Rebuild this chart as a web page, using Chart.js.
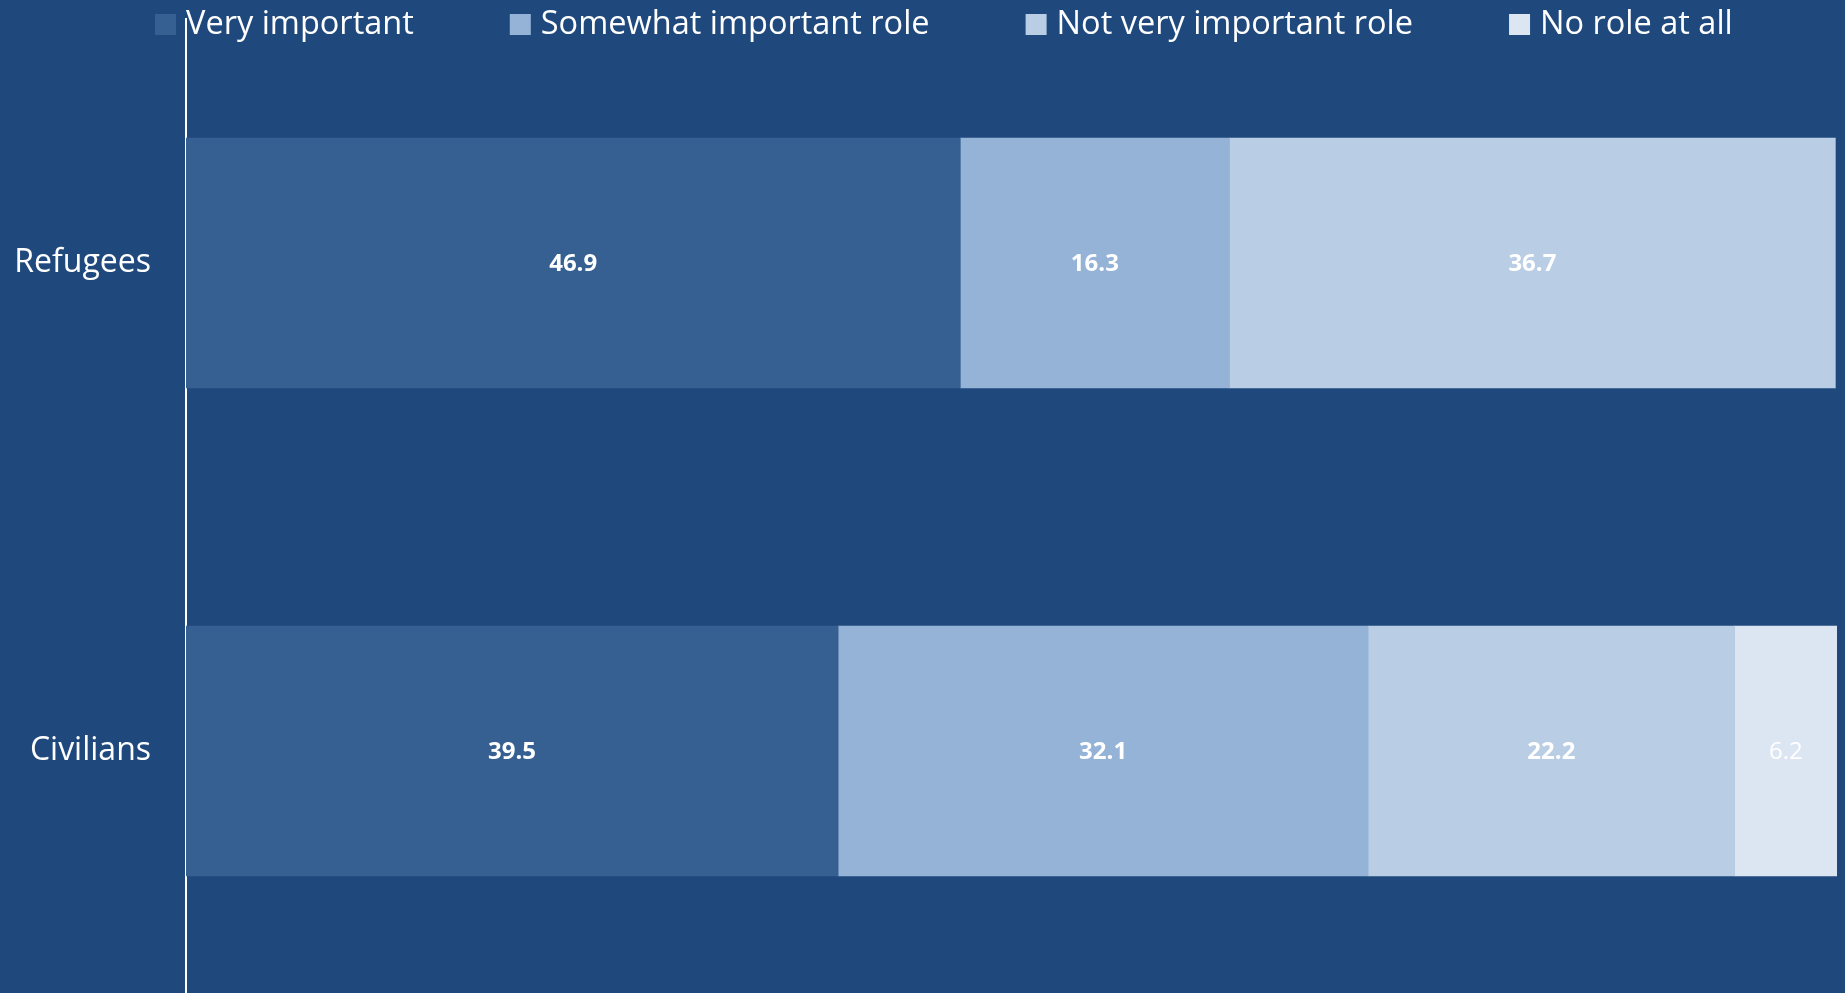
<!DOCTYPE html>
<html lang="en">
<head>
    <meta charset="UTF-8">
    <title>Role ratings</title>
    <script src="https://cdn.jsdelivr.net/npm/chart.js"></script>
    <style>
        html, body { margin: 0; padding: 0; background: #1F497D; overflow: hidden; }
        #wrap { position: relative; width: 1845px; height: 995px; }
    </style>
</head>
<body>
    <div id="wrap"><canvas id="roleChart"></canvas></div>

    <script>
        // data
        const groups = ["Refugees", "Civilians"];
        const seriesNames = ["Very important", "Somewhat important role", "Not very important role", "No role at all"];
        const veryImportant = [46.9, 39.5];
        const somewhatImportant = [16.3, 32.1];
        const notVeryImportant = [36.7, 22.2];
        const noRole = [null, 6.2];
        const seriesColors = ["#376092", "#95B3D7", "#B9CDE5", "#DCE6F2"];

        const FONT = "'Open Sans', sans-serif";

        // legend drawn on top of the plot, like the original
        const overlayLegend = {
            id: "overlayLegend",
            afterDraw(chart) {
                const ctx = chart.ctx;
                ctx.save();
                ctx.font = "32.5px " + FONT;
                ctx.textBaseline = "middle";
                ctx.textAlign = "left";
                let x = 155;
                const yMid = 24;
                chart.data.datasets.forEach(function(ds) {
                    ctx.fillStyle = ds.backgroundColor;
                    ctx.fillRect(x, yMid - 10, 21, 21);
                    x += 31;
                    ctx.fillStyle = "#ffffff";
                    ctx.fillText(ds.label, x, yMid + 1);
                    x += ctx.measureText(ds.label).width + 96;
                });
                ctx.restore();
            }
        };

        // value labels in the middle of each segment
        const segmentLabels = {
            id: "segmentLabels",
            afterDatasetsDraw(chart) {
                const ctx = chart.ctx;
                ctx.save();
                ctx.textAlign = "center";
                ctx.textBaseline = "middle";
                ctx.fillStyle = "#ffffff";
                chart.data.datasets.forEach(function(ds, di) {
                    const meta = chart.getDatasetMeta(di);
                    ctx.font = (di === 3 ? "" : "bold ") + "24px " + FONT;
                    meta.data.forEach(function(bar, i) {
                        const v = ds.data[i];
                        if (v === null || v === undefined) return;
                        const cx = (bar.x + bar.base) / 2;
                        ctx.fillText(v.toFixed(1), cx, bar.y + 1);
                    });
                });
                ctx.restore();
            }
        };

        const values = [veryImportant, somewhatImportant, notVeryImportant, noRole];

        new Chart(document.getElementById("roleChart"), {
            type: "bar",
            data: {
                labels: groups,
                datasets: values.map(function(arr, i) {
                    return {
                        label: seriesNames[i],
                        data: arr,
                        backgroundColor: seriesColors[i],
                        borderWidth: 0,
                        barThickness: 250
                    };
                })
            },
            options: {
                indexAxis: "y",
                responsive: true,
                maintainAspectRatio: false,
                animation: false,
                layout: { padding: { top: 19, right: 8, left: 0, bottom: 0 } },
                plugins: {
                    legend: { display: false },
                    tooltip: { enabled: false }
                },
                scales: {
                    x: {
                        stacked: true,
                        min: 0,
                        max: 100,
                        display: false
                    },
                    y: {
                        stacked: true,
                        grid: { display: false, drawTicks: false },
                        border: { display: true, color: "#ffffff", width: 2 },
                        ticks: {
                            color: "#ffffff",
                            font: { family: FONT, size: 32 },
                            padding: 35
                        },
                        afterFit(scale) {
                            scale.width = 186;
                            scale.paddingTop = 0;
                            scale.paddingBottom = 0;
                        }
                    }
                }
            },
            plugins: [segmentLabels, overlayLegend]
        });
    </script>
</body>
</html>
